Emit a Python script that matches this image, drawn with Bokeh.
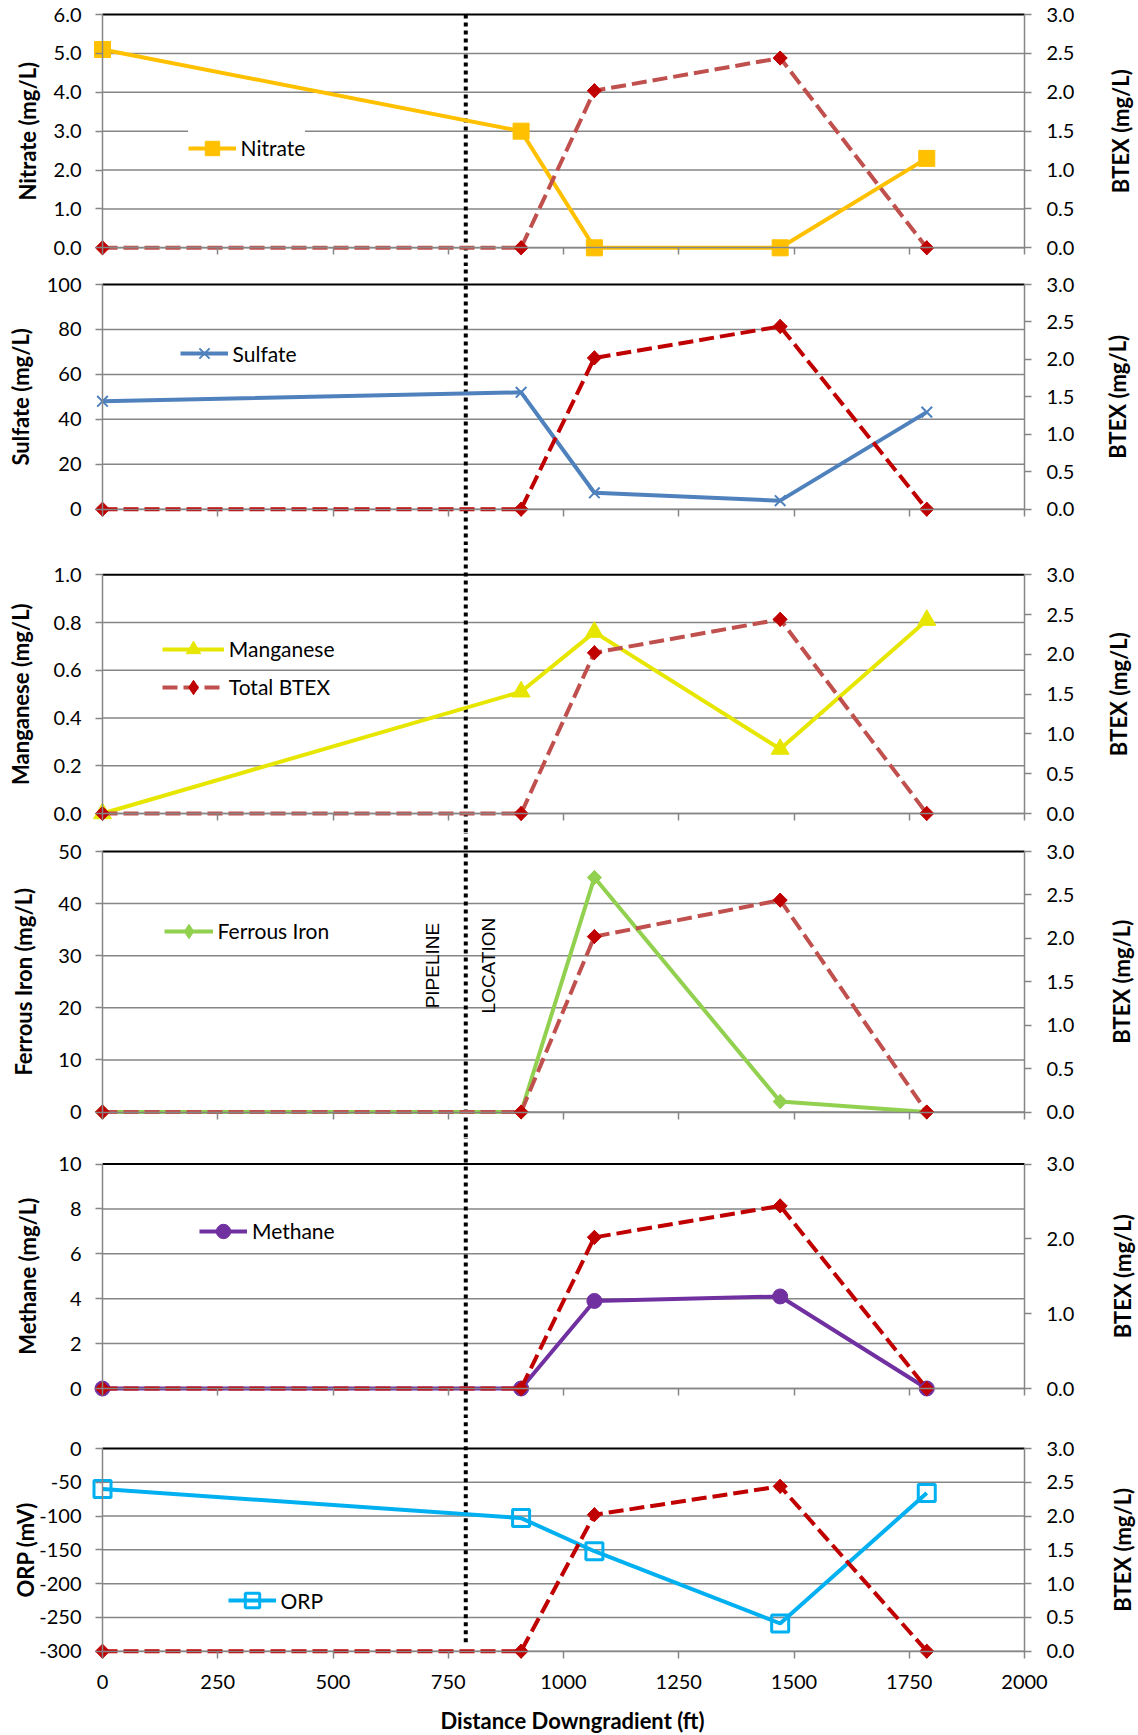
import math
from bokeh.plotting import figure
from bokeh.models import (Range1d, LinearAxis, FixedTicker, PrintfTickFormatter,
                          Legend, LegendItem, Label, ColumnDataSource)
from bokeh.layouts import column
from bokeh.embed import file_html
from bokeh.resources import INLINE

# ---------------- data ----------------
distance_ft = [0, 908, 1067, 1470, 1788]
total_btex = [0.0, 0.0, 2.02, 2.44, 0.0]
nitrate = [5.1, 3.0, 0.0, 0.0, 2.3]
sulfate = [48.0, 52.0, 7.3, 3.8, 43.2]
manganese = [0.0, 0.51, 0.76, 0.27, 0.81]
ferrous_iron = [0.0, 0.0, 45.0, 2.0, 0.0]
methane = [0.0, 0.0, 3.9, 4.1, 0.0]
orp = [-60, -103, -152, -259, -66]
pipeline_ft = 788
x_ticks = [0, 250, 500, 750, 1000, 1250, 1500, 1750, 2000]
btex_ticks = [0.0, 0.5, 1.0, 1.5, 2.0, 2.5, 3.0]
btex_ticks_coarse = [0.0, 1.0, 2.0, 3.0]
nitrate_ticks = [0, 1, 2, 3, 4, 5, 6]
sulfate_ticks = [0, 20, 40, 60, 80, 100]
manganese_ticks = [0.0, 0.2, 0.4, 0.6, 0.8, 1.0]
ferrous_ticks = [0, 10, 20, 30, 40, 50]
methane_ticks = [0, 2, 4, 6, 8, 10]
orp_ticks = [-300, -250, -200, -150, -100, -50, 0]

FONT = "Lato"
GRAY = "#868686"
BTEX_MARK = "#C00000"
W = 1138            # figure width (px)
L, R = 102, 1024    # pixel x of 0 ft and 2000 ft

panels = [
    dict(name="Nitrate", title="Nitrate (mg/L)", vals=nitrate, vr=(0, 6), ticks=nitrate_ticks, fmt="%.1f",
         color="#FFC000", marker="square", msize=16, mangle=0, mfill="#FFC000", mlw=1,
         btex_color="#C0504D", bticks=btex_ticks,
         slab=(0, 266), dpx=(14, 247.3), ltx=26.8, rtx=1120,
         leg_x=187.5, leg_y=[147.7], gw=48, pad=10, bg=1.0, legend_btex=False),
    dict(name="Sulfate", title="Sulfate (mg/L)", vals=sulfate, vr=(0, 100), ticks=sulfate_ticks, fmt="%d",
         color="#4F81BD", marker="x", msize=15, mangle=0, mfill="#4F81BD", mlw=2,
         btex_color="#C00000", bticks=btex_ticks,
         slab=(266, 545), dpx=(284, 508.7), ltx=19.5, rtx=1117,
         leg_x=179.6, leg_y=[353.3], gw=48, pad=0, bg=0.0, legend_btex=False),
    dict(name="Manganese", title="Manganese (mg/L)", vals=manganese, vr=(0, 1), ticks=manganese_ticks, fmt="%.1f",
         color="#E6E600", marker="triangle", msize=18, mangle=0, mfill="#E6E600", mlw=1,
         btex_color="#C0504D", bticks=btex_ticks,
         slab=(545, 832), dpx=(574.3, 813), ltx=19.5, rtx=1118,
         leg_x=161.8, leg_y=[648.3, 686.7], gw=62, pad=0, bg=0.0, legend_btex=True),
    dict(name="Ferrous Iron", title="Ferrous Iron (mg/L)", vals=ferrous_iron, vr=(0, 50), ticks=ferrous_ticks, fmt="%d",
         color="#92D050", marker="square", msize=10, mangle=math.pi / 4, mfill="#92D050", mlw=1,
         btex_color="#C0504D", bticks=btex_ticks,
         slab=(832, 1137), dpx=(851, 1111.5), ltx=23.2, rtx=1121,
         leg_x=163.6, leg_y=[930.7], gw=49, pad=0, bg=0.0, legend_btex=False),
    dict(name="Methane", title="Methane (mg/L)", vals=methane, vr=(0, 10), ticks=methane_ticks, fmt="%d",
         color="#7030A0", marker="circle", msize=15, mangle=0, mfill="#7030A0", mlw=1,
         btex_color="#C00000", bticks=btex_ticks_coarse,
         slab=(1137, 1418), dpx=(1163.5, 1388), ltx=26.8, rtx=1122,
         leg_x=199, leg_y=[1230.7], gw=48, pad=0, bg=0.0, legend_btex=False),
    dict(name="ORP", title="ORP (mV)", vals=orp, vr=(-300, 0), ticks=orp_ticks, fmt="%d",
         color="#00B0F0", marker="square", msize=17, mangle=0, mfill=None, mlw=3,
         btex_color="#C00000", bticks=btex_ticks,
         slab=(1418, 1735), dpx=(1448, 1650.7), ltx=25, rtx=1122,
         leg_x=227.5, leg_y=[1600.3], gw=48, pad=0, bg=0.0, legend_btex=False),
]


def style_axis(ax):
    ax.axis_line_color = GRAY
    ax.axis_line_width = 1.5
    ax.major_tick_line_color = GRAY
    ax.major_tick_line_width = 1.5
    ax.major_tick_out = 7
    ax.major_tick_in = 0
    ax.minor_tick_line_color = None
    ax.major_label_text_font = FONT
    ax.major_label_text_font_size = "20px"
    ax.major_label_text_color = "black"


def title_label(text, x, y, size="22px", font=FONT, style="bold"):
    return Label(x=x, y=y, x_units="screen", y_units="screen", text=text, angle=math.pi / 2,
                 text_align="center", text_baseline="middle", text_font=font,
                 text_font_style=style, text_font_size=size, text_color="black")


def make_panel(c, last):
    S0, S1 = c["slab"]
    T, B = c["dpx"]
    vmin, vmax = c["vr"]
    upp = (vmax - vmin) / (B - T)
    y0 = vmin - (S1 - B) * upp
    y1 = vmax + (T - S0) * upp
    bupp = 3.0 / (B - T)
    b0 = 0.0 - (S1 - B) * bupp
    b1 = 3.0 + (T - S0) * bupp
    upx = 2000.0 / (R - L)
    x0 = 0 - L * upx
    x1 = 2000 + (W - R) * upx

    p = figure(frame_width=W, frame_height=S1 - S0,
               x_range=Range1d(x0, x1), y_range=Range1d(y0, y1),
               min_border_left=0, min_border_right=0, min_border_top=0, min_border_bottom=0,
               toolbar_location=None, output_backend="svg")
    p.outline_line_color = None
    p.background_fill_color = "white"
    p.border_fill_color = "white"
    p.extra_y_ranges = {"btex": Range1d(b0, b1)}
    p.xgrid.visible = False
    p.ygrid.visible = False

    # left axis (at 0 ft)
    ya = p.yaxis[0]
    ya.fixed_location = 0
    ya.ticker = FixedTicker(ticks=c["ticks"])
    ya.bounds = (vmin, vmax)
    ya.formatter = PrintfTickFormatter(format=c["fmt"])
    style_axis(ya)
    ya.major_label_standoff = 14

    # right axis (at 2000 ft)
    ra = LinearAxis(y_range_name="btex", ticker=FixedTicker(ticks=c["bticks"]), bounds=(0, 3),
                    formatter=PrintfTickFormatter(format="%.1f"), fixed_location=2000)
    style_axis(ra)
    ra.major_label_standoff = 15
    p.add_layout(ra, "right")

    # x axis (at bottom of the value axis)
    xa = p.xaxis[0]
    xa.fixed_location = vmin
    xa.ticker = FixedTicker(ticks=x_ticks)
    xa.bounds = (0, 2000)
    style_axis(xa)
    if last:
        xa.major_label_standoff = 17
    else:
        xa.major_label_overrides = {t: "" for t in x_ticks}

    # horizontal gridlines between the axes
    gy = [t for t in c["ticks"] if t != vmax]
    p.segment(x0=[0] * len(gy), y0=gy, x1=[2000] * len(gy), y1=gy, line_color=GRAY, line_width=1.5)
    p.segment(x0=[0], y0=[vmax], x1=[2000], y1=[vmax], line_color="black", line_width=2)

    # pipeline dotted line
    ytop = vmax if c is panels[0] else y1
    ybot = (vmin + 9 * upp) if last else y0
    p.segment(x0=[pipeline_ft], y0=[ybot], x1=[pipeline_ft], y1=[ytop],
              line_color="black", line_width=4, line_dash="4 4")

    src = ColumnDataSource(dict(x=distance_ft, v=c["vals"], b=total_btex))
    ln = p.line("x", "v", source=src, line_color=c["color"], line_width=4)
    leg_marks = [ln]
    if c["mangle"]:
        lm = p.scatter("x", "v", source=src, marker="diamond", size=14,
                       fill_color=c["mfill"], line_color=c["color"])
        leg_marks.append(lm)
    mk = p.scatter("x", "v", source=src, marker=c["marker"], size=c["msize"], angle=c["mangle"],
                   fill_color=c["mfill"], line_color=c["color"], line_width=c["mlw"])
    if not c["mangle"]:
        leg_marks.append(mk)
    bl = p.line("x", "b", source=src, y_range_name="btex", line_color=c["btex_color"],
                line_width=4, line_dash="15 6")
    bd = p.scatter("x", "b", source=src, y_range_name="btex", marker="diamond", size=14,
                   fill_color=BTEX_MARK, line_color=BTEX_MARK)
    p.scatter("x", "b", source=src, y_range_name="btex", marker="square", angle=math.pi / 4,
              size=10, fill_color=BTEX_MARK, line_color=BTEX_MARK)

    items = [LegendItem(label=c["name"], renderers=leg_marks)]
    if c["legend_btex"]:
        items.append(LegendItem(label="Total BTEX", renderers=[bl, bd]))
    gh = 36
    pad = c["pad"]
    vx = c["leg_x"]
    vy = S1 - (c["leg_y"][-1] + gh / 2)
    spacing = 0
    if len(c["leg_y"]) > 1:
        spacing = int(round(c["leg_y"][1] - c["leg_y"][0] - gh))
    leg = Legend(items=items, location=(vx, vy), orientation="vertical",
                 border_line_color=None, background_fill_color="white",
                 background_fill_alpha=c["bg"], padding=pad, margin=0, spacing=spacing,
                 glyph_width=c["gw"], glyph_height=gh, label_height=20, label_standoff=5,
                 label_text_font=FONT, label_text_font_size="21px", label_text_color="black")
    p.add_layout(leg)

    # axis titles
    mid = S1 - (T + B) / 2
    p.add_layout(title_label(c["title"], c["ltx"], mid))
    p.add_layout(title_label("BTEX (mg/L)", c["rtx"], mid))

    if c["name"] == "Ferrous Iron":
        for txt, xft in (("PIPELINE", 715), ("LOCATION", 838)):
            p.add_layout(Label(x=xft, y=28.1, text=txt, angle=math.pi / 2, text_align="center",
                               text_baseline="middle", text_font="Liberation Sans",
                               text_font_size="19px", text_color="black"))
    if last:
        p.add_layout(Label(x=572, y=S1 - 1720, x_units="screen", y_units="screen",
                           text="Distance Downgradient (ft)", text_align="center",
                           text_baseline="middle", text_font=FONT, text_font_style="bold",
                           text_font_size="22px", text_color="black"))
    return p


figs = [make_panel(c, i == len(panels) - 1) for i, c in enumerate(panels)]
layout = column(*figs, spacing=0)
open("out.html", "w").write(file_html(layout, INLINE))
